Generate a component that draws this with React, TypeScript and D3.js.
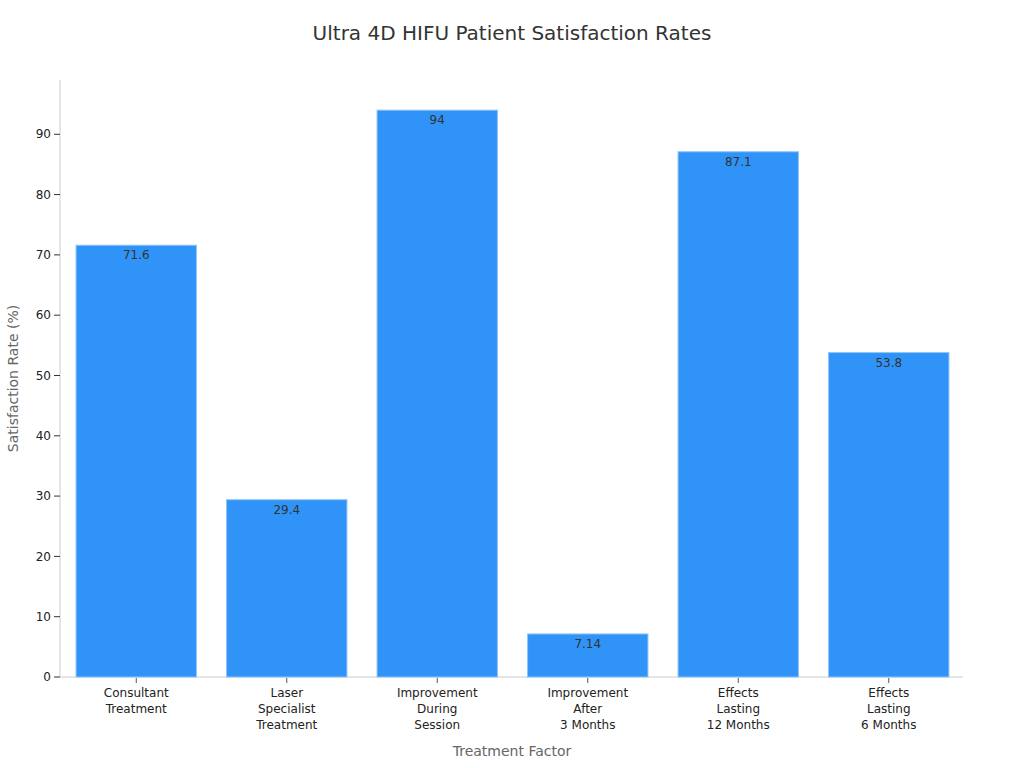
import React from "react";
import * as d3 from "d3";

const categories: string[][] = [
  ["Consultant", "Treatment"],
  ["Laser", "Specialist", "Treatment"],
  ["Improvement", "During", "Session"],
  ["Improvement", "After", "3 Months"],
  ["Effects", "Lasting", "12 Months"],
  ["Effects", "Lasting", "6 Months"],
];
const values: number[] = [71.6, 29.4, 94, 7.14, 87.1, 53.8];
const valueLabels: string[] = ["71.6", "29.4", "94", "7.14", "87.1", "53.8"];
const yTicks: number[] = [0, 10, 20, 30, 40, 50, 60, 70, 80, 90];

const W = 1024;
const H = 768;
const margin = { left: 60, right: 61, top: 80, bottom: 91 };
const FONT = "DejaVu Sans, sans-serif";

export default function App() {
  const ids = categories.map((_, i) => String(i));
  const x = d3
    .scaleBand<string>()
    .domain(ids)
    .range([margin.left + 1, W - margin.right + 1])
    .paddingInner(0.2)
    .paddingOuter(0.1);
  const y = d3
    .scaleLinear()
    .domain([0, 99])
    .range([H - margin.bottom, margin.top]);
  const baseY = y(0);

  return (
    <svg
      width={W}
      height={H}
      style={{ position: "absolute", left: 0, top: 0, background: "#fff" }}
      fontFamily={FONT}
    >
      <text x={512} y={40} textAnchor="middle" fontSize={20} fill="#333">
        Ultra 4D HIFU Patient Satisfaction Rates
      </text>

      {/* axes lines */}
      <line x1={margin.left} x2={margin.left} y1={margin.top} y2={baseY} stroke="#ccc" strokeWidth={1} />
      <line x1={margin.left} x2={W - margin.right} y1={baseY} y2={baseY} stroke="#ccc" strokeWidth={1} />

      {/* y ticks */}
      {yTicks.map((t) => (
        <g key={t} transform={`translate(0,${y(t)})`}>
          <line x1={margin.left - 6} x2={margin.left} stroke="#333" strokeWidth={1} />
          <text x={margin.left - 9} dy="0.35em" textAnchor="end" fontSize={12} fill="#222">
            {t}
          </text>
        </g>
      ))}

      {/* bars */}
      {values.map((v, i) => {
        const bx = x(String(i))!;
        const bw = x.bandwidth();
        return (
          <g key={i}>
            <rect
              x={bx}
              y={y(v)}
              width={bw}
              height={baseY - y(v)}
              fill="#2F93F8"
              stroke="#8EC5F9"
              strokeWidth={1}
            />
            <text
              x={bx + bw / 2}
              y={y(v) + 14}
              textAnchor="middle"
              fontSize={12}
              fill="#333"
            >
              {valueLabels[i]}
            </text>
          </g>
        );
      })}

      {/* x ticks */}
      {categories.map((lines, i) => {
        const cx = x(String(i))! + x.bandwidth() / 2;
        return (
          <g key={i} transform={`translate(${cx},${baseY})`}>
            <line y1={1} y2={6} stroke="#555" strokeWidth={1} />
            <text textAnchor="middle" fontSize={12} fill="#222">
              {lines.map((l, j) => (
                <tspan key={j} x={0} y={20 + j * 16}>
                  {l}
                </tspan>
              ))}
            </text>
          </g>
        );
      })}

      <text x={512} y={756} textAnchor="middle" fontSize={14} fill="#666">
        Treatment Factor
      </text>
      <text
        transform={`translate(18,${(margin.top + baseY) / 2}) rotate(-90)`}
        textAnchor="middle"
        fontSize={14}
        fill="#666"
      >
        Satisfaction Rate (%)
      </text>
    </svg>
  );
}
